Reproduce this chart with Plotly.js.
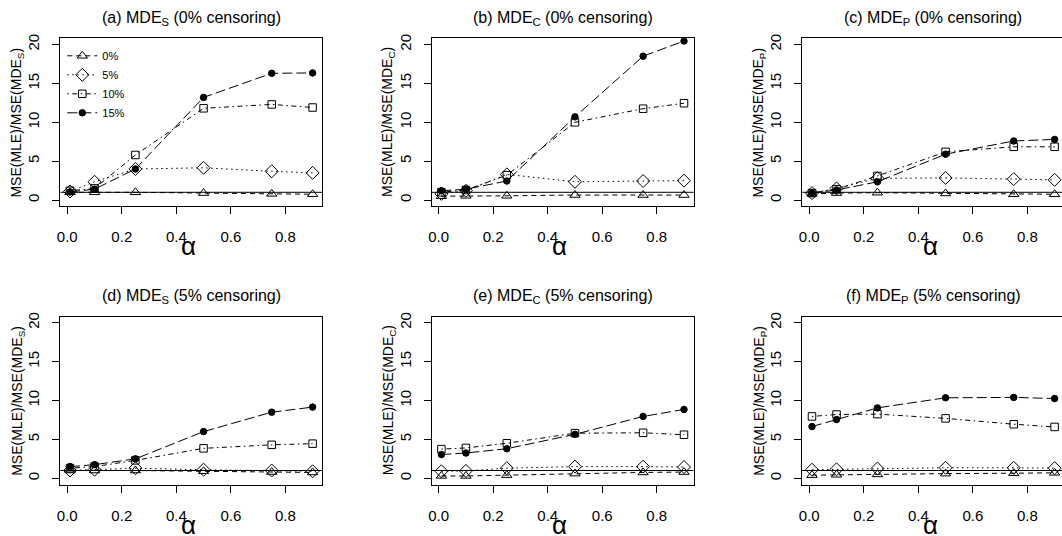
<!DOCTYPE html>
<html>
<head>
<meta charset="utf-8">
<script src="https://cdn.plot.ly/plotly-3.0.1.min.js"></script>
<style>
html, body { margin: 0; padding: 0; overflow: hidden; background: #fff; }
#chart { width: 1066px; height: 536px; }
</style>
</head>
<body>
<div id="chart"></div>
<script>
// ---- data ----
const alpha = [0.01, 0.1, 0.25, 0.5, 0.75, 0.9];
const censLabels = ["0%", "5%", "10%", "15%"];
const xTickVals = [0, 0.2, 0.4, 0.6, 0.8];
const xTickText = ["0.0", "0.2", "0.4", "0.6", "0.8"];
const yTickVals = [0, 5, 10, 15, 20];
const yTickText = ["0", "5", "10", "15", "20"];

const panelLetters = ["a", "b", "c", "d", "e", "f"];
const panelEstimators = ["S", "C", "P", "S", "C", "P"];
const panelCensoring = ["0%", "0%", "0%", "5%", "5%", "5%"];

// panel (a) MDE_S, 0% censoring
const a_0 = [1.0, 1.0, 1.0, 0.9, 0.8, 0.75];
const a_5 = [1.1, 2.35, 4.0, 4.15, 3.7, 3.5];
const a_10 = [1.2, 1.5, 5.8, 11.8, 12.3, 11.9];
const a_15 = [1.05, 1.4, 4.0, 13.2, 16.3, 16.35];
// panel (b) MDE_C, 0% censoring
const b_0 = [0.5, 0.55, 0.55, 0.65, 0.65, 0.65];
const b_5 = [0.8, 1.2, 3.3, 2.35, 2.45, 2.5];
const b_10 = [1.0, 1.3, 3.2, 10.0, 11.75, 12.45];
const b_15 = [1.2, 1.4, 2.45, 10.7, 18.5, 20.45];
// panel (c) MDE_P, 0% censoring
const c_0 = [0.8, 0.9, 0.95, 0.85, 0.75, 0.75];
const c_5 = [0.9, 1.5, 2.8, 2.85, 2.7, 2.6];
const c_10 = [0.9, 1.4, 3.1, 6.2, 6.85, 6.85];
const c_15 = [0.9, 1.3, 2.35, 5.9, 7.6, 7.8];
// panel (d) MDE_S, 5% censoring
const d_0 = [1.0, 1.0, 1.0, 0.9, 0.8, 0.75];
const d_5 = [1.0, 1.1, 1.3, 1.1, 1.0, 0.9];
const d_10 = [1.3, 1.5, 2.3, 3.85, 4.3, 4.45];
const d_15 = [1.5, 1.75, 2.5, 6.0, 8.5, 9.15];
// panel (e) MDE_C, 5% censoring
const e_0 = [0.3, 0.3, 0.4, 0.6, 0.75, 0.8];
const e_5 = [0.9, 0.95, 1.3, 1.5, 1.5, 1.45];
const e_10 = [3.75, 3.9, 4.5, 5.8, 5.85, 5.6];
const e_15 = [3.05, 3.25, 3.8, 5.65, 7.95, 8.85];
// panel (f) MDE_P, 5% censoring
const f_0 = [0.4, 0.45, 0.5, 0.6, 0.65, 0.7];
const f_5 = [1.1, 1.15, 1.25, 1.35, 1.35, 1.3];
const f_10 = [7.95, 8.2, 8.25, 7.7, 6.95, 6.6];
const f_15 = [6.65, 7.55, 9.05, 10.35, 10.4, 10.25];

const referenceLevel = 1;

const panels = [
  [a_0, a_5, a_10, a_15],
  [b_0, b_5, b_10, b_15],
  [c_0, c_5, c_10, c_15],
  [d_0, d_5, d_10, d_15],
  [e_0, e_5, e_10, e_15],
  [f_0, f_5, f_10, f_15]
];

// ---- styles ----
const seriesStyle = [
  {symbol: "triangle-up-open", size: 9, dash: "5px,4px"},
  {symbol: "diamond-open", size: 10, dash: "1.5px,3.5px"},
  {symbol: "square-open", size: 7.5, dash: "1.5px,3.5px,5px,3.5px"},
  {symbol: "circle", size: 6.5, dash: "10px,4px"}
];

const W = 1066, H = 536;
const colLeft = [60.3, 431.7, 802.3];
const boxW = 262;
const rowTop = [38.3, 316.5];
const boxH = 168;
const FONT = "Liberation Sans, Arial, Helvetica, sans-serif";

const traces = [];
const layout = {
  width: W, height: H,
  margin: {l: 0, r: 0, t: 0, b: 0},
  paper_bgcolor: "#fff", plot_bgcolor: "#fff",
  font: {family: FONT, color: "#000"},
  showlegend: true,
  legend: {
    x: (colLeft[0] + 2) / W, y: 1 - (rowTop[0] + 3) / H,
    xanchor: "left", yanchor: "top",
    bgcolor: "rgba(0,0,0,0)", borderwidth: 0,
    font: {size: 11, family: FONT, color: "#000"},
    tracegroupgap: 0
  },
  annotations: [],
  shapes: []
};

for (let p = 0; p < 6; p++) {
  const col = p % 3, row = Math.floor(p / 3);
  const sfx = p === 0 ? "" : String(p + 1);
  const xa = "x" + sfx, ya = "y" + sfx;
  const left = colLeft[col], top = rowTop[row];
  layout["xaxis" + sfx] = {
    domain: [left / W, (left + boxW) / W],
    range: [-0.0256, 0.9356],
    anchor: ya,
    tickvals: xTickVals, ticktext: xTickText,
    ticks: "outside", ticklen: 7, tickwidth: 1, tickcolor: "#000",
    showline: true, linecolor: "#000", linewidth: 1, mirror: true,
    showgrid: false, zeroline: false,
    tickfont: {size: 15, family: FONT, color: "#000"},
    ticklabelstandoff: 10
  };
  layout["yaxis" + sfx] = {
    domain: [1 - (top + boxH) / H, 1 - top / H],
    range: [-0.8, 20.8],
    anchor: xa,
    tickvals: yTickVals, ticktext: yTickText,
    ticks: "outside", ticklen: 7, tickwidth: 1, tickcolor: "#000",
    tickangle: -90,
    showline: true, linecolor: "#000", linewidth: 1, mirror: true,
    showgrid: false, zeroline: false,
    tickfont: {size: 15, family: FONT, color: "#000"},
    ticklabelstandoff: 7
  };
  // reference line at MSE ratio = 1
  layout.shapes.push({
    type: "line", xref: xa + " domain", yref: ya,
    x0: 0, x1: 1, y0: referenceLevel, y1: referenceLevel,
    line: {color: "#000", width: 1}
  });
  // panel title
  layout.annotations.push({
    xref: "paper", yref: "paper",
    x: (left + boxW / 2) / W, y: 1 - (top - 20) / H,
    xanchor: "center", yanchor: "middle", showarrow: false,
    text: "(" + panelLetters[p] + ") MDE<sub>" + panelEstimators[p] + "</sub> (" + panelCensoring[p] + " censoring)",
    font: {size: 16, family: FONT, color: "#000"}
  });
  // y title
  layout.annotations.push({
    xref: "paper", yref: "paper",
    x: (left - 43) / W, y: 1 - (top + boxH / 2) / H,
    xanchor: "center", yanchor: "middle", showarrow: false, textangle: -90,
    text: "MSE(MLE)/MSE(MDE<sub>" + panelEstimators[p] + "</sub>)",
    font: {size: 14, family: FONT, color: "#000"}
  });
  // x title
  layout.annotations.push({
    xref: "paper", yref: "paper",
    x: (left + boxW / 2 - 3) / W, y: 1 - (top + boxH + 40) / H,
    xanchor: "center", yanchor: "middle", showarrow: false,
    text: "α",
    font: {size: 26, family: FONT, color: "#000"}
  });
  for (let s = 0; s < 4; s++) {
    const st = seriesStyle[s];
    traces.push({
      type: "scatter", mode: "lines+markers",
      x: alpha, y: panels[p][s],
      xaxis: xa, yaxis: ya,
      name: censLabels[s], legendgroup: censLabels[s],
      showlegend: p === 0,
      line: {color: "#000", width: 1, dash: st.dash},
      marker: {symbol: st.symbol, size: st.size, color: "#000", line: {color: "#000", width: 1}},
      cliponaxis: true,
      hoverinfo: "skip"
    });
  }
}

Plotly.newPlot("chart", traces, layout, {staticPlot: true, displayModeBar: false});
</script>
</body>
</html>
